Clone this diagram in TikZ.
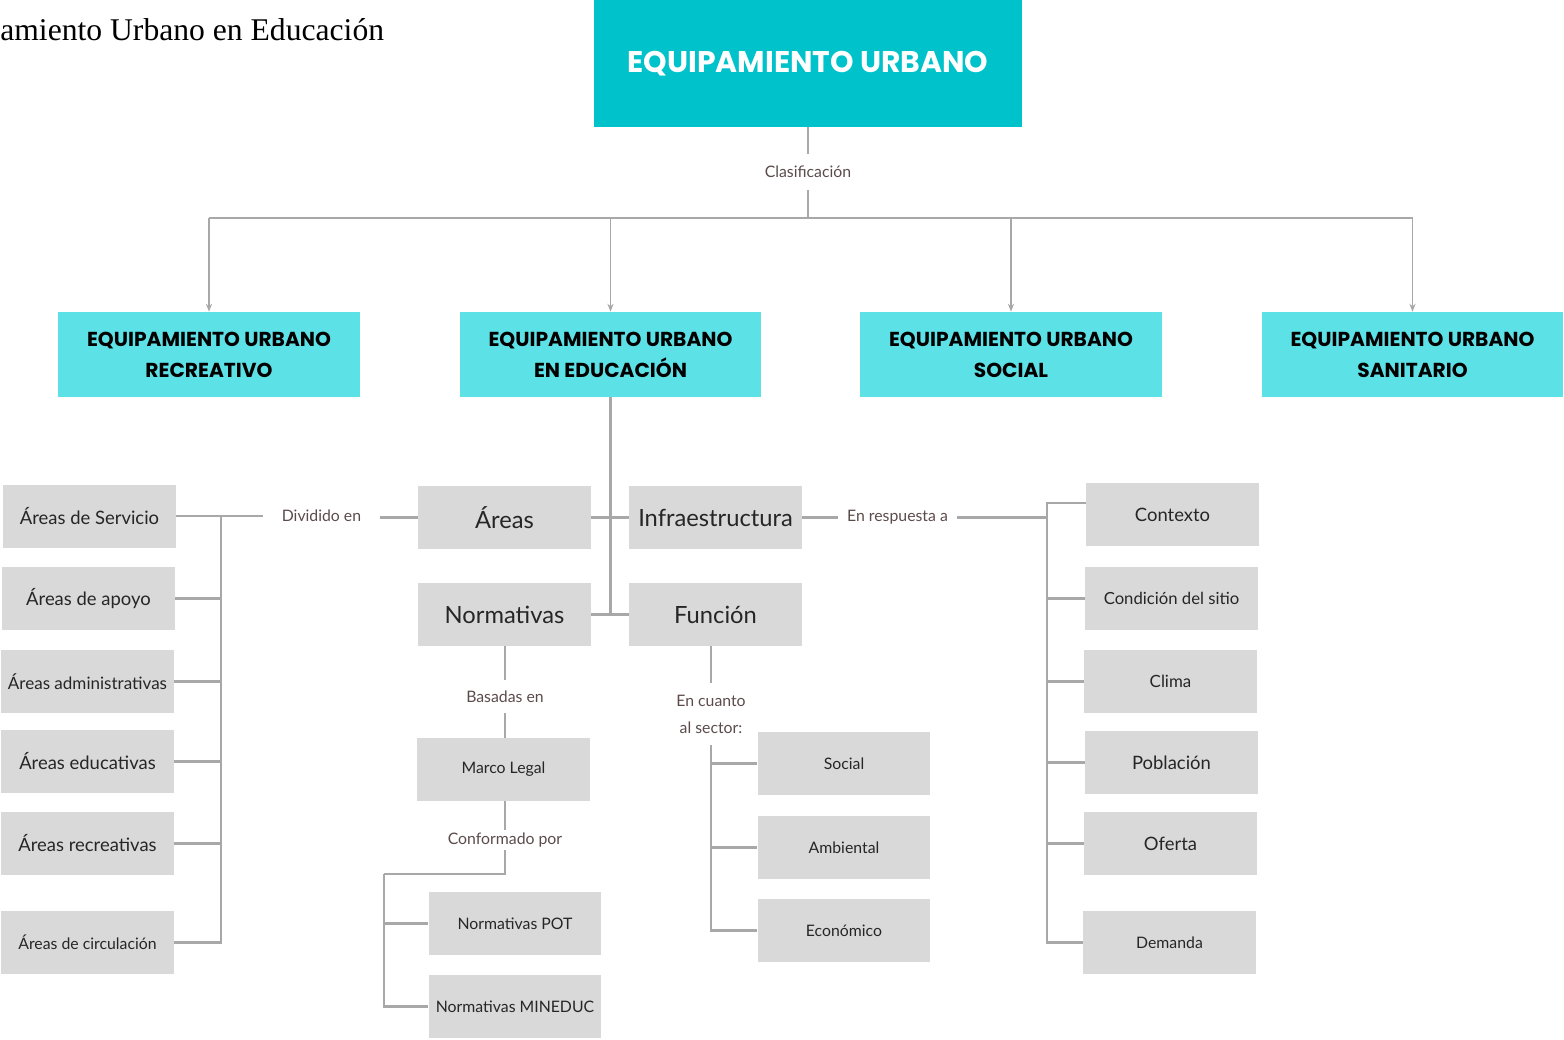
\documentclass[tikz,border=0pt]{standalone}
\usepackage{fontspec}
\setmainfont{Lato}
\newfontfamily\headfont{Poppins}
\newfontfamily\capfont{Liberation Serif}
\usetikzlibrary{arrows.meta}
\definecolor{topteal}{HTML}{00C2CB}
\definecolor{subteal}{HTML}{5CE1E6}
\definecolor{boxgray}{HTML}{D9D9D9}
\definecolor{linegray}{HTML}{A8A8A8}
\definecolor{lbltext}{HTML}{5B4B4B}

\begin{document}
\begin{tikzpicture}[x=0.02cm, y=-0.02cm,
    topbox/.style={fill=topteal, text=white, minimum width=8.56cm, minimum height=2.54cm, inner sep=0,
        font=\headfont\bfseries\fontsize{17}{20}\selectfont},
    typebox/.style={fill=subteal, minimum width=6.04cm, minimum height=1.7cm, inner sep=0, align=center,
        font=\headfont\bfseries\fontsize{11.5}{17.6}\selectfont},
    cell/.style={fill=boxgray, text=black!85, minimum width=3.46cm, minimum height=1.26cm, inner sep=0},
    big/.style={font=\fontsize{13.5}{16}\selectfont},
    mid/.style={font=\fontsize{10.5}{13}\selectfont},
    sml/.style={font=\fontsize{9}{11}\selectfont},
    lbl/.style={text=lbltext, inner sep=0, font=\fontsize{9}{11}\selectfont},
    conn/.style={draw=linegray, line width=1.35pt},
    fan/.style={draw=linegray, line width=0.9pt, -{Stealth[length=4.5pt,width=3.5pt]}}
]
    \useasboundingbox (0,0) rectangle (1564,1039);

    % Caption (cut at the left)
    \node[anchor=base west, inner sep=0, font=\capfont\fontsize{18}{22}\selectfont] (caption) at (0,40) {amiento Urbano en Educación};

    % Main box and the four types
    \node[topbox] (top) at (808,63.5) {EQUIPAMIENTO URBANO};
    \node[typebox] (rec) at (209,354.5) {EQUIPAMIENTO URBANO\\RECREATIVO};
    \node[typebox] (edu) at (610.5,354.5) {EQUIPAMIENTO URBANO\\EN EDUCACIÓN};
    \node[typebox] (soc) at (1011,354.5) {EQUIPAMIENTO URBANO\\SOCIAL};
    \node[typebox] (san) at (1412.5,354.5) {EQUIPAMIENTO URBANO\\SANITARIO};

    % Centre column
    \node[cell, big] (areas) at (504.5,517.5) {Áreas};
    \node[cell, big] (infra) at (715.5,517.5) {Infraestructura};
    \node[cell, big] (norm) at (504.5,614.5) {Normativas};
    \node[cell, big] (fun) at (715.5,614.5) {Función};
    \node[cell, sml] (marco) at (503.5,769.5) {Marco Legal};
    \node[cell, sml] (pot) at (515,923.5) {Normativas POT};
    \node[cell, sml] (mineduc) at (515,1006.5) {Normativas MINEDUC};
    \node[cell, sml] (social) at (844,763.5) {Social};
    \node[cell, sml] (amb) at (844,847.5) {Ambiental};
    \node[cell, sml] (eco) at (844,930.5) {Económico};

    % Left column
    \node[cell, mid] (serv) at (89.5,516) {Áreas de Servicio};
    \node[cell, mid] (apoyo) at (88.5,598.5) {Áreas de apoyo};
    \node[cell, mid, font=\fontsize{9.7}{12}\selectfont] (admin) at (87.5,681.5) {Áreas administrativas};
    \node[cell, mid] (educ) at (87.5,761.5) {Áreas educativas};
    \node[cell, mid] (recr) at (87.5,843.5) {Áreas recreativas};
    \node[cell, sml] (circ) at (87.5,942.5) {Áreas de circulación};

    % Right column
    \node[cell, mid] (ctx) at (1172.5,514.5) {Contexto};
    \node[cell, sml, font=\fontsize{9.5}{12}\selectfont] (cond) at (1171.5,598.5) {Condición del sitio};
    \node[cell, mid, font=\fontsize{9.6}{12}\selectfont] (clima) at (1170.5,681.5) {Clima};
    \node[cell, mid] (pobl) at (1171.5,762.5) {Población};
    \node[cell, mid] (oferta) at (1170.5,843.5) {Oferta};
    \node[cell, sml] (demanda) at (1169.5,942.5) {Demanda};

    % Connector labels
    \node[lbl, minimum height=0.7cm] (clas) at (808,172) {Clasificación};
    \node[lbl, minimum width=2.34cm] (div) at (321.5,516) {Dividido en};
    \node[lbl, minimum width=2.38cm] (resp) at (897.5,517.5) {En respuesta a};
    \node[lbl, minimum height=0.66cm] (bas) at (505,696.5) {Basadas en};
    \node[lbl, minimum height=0.4cm] (conf) at (505,840) {Conformado por};
    \node[lbl, minimum height=1.24cm, align=center, font=\fontsize{9}{15.4}\selectfont] (sector) at (711,714) {En cuanto\\al sector:};

    % Clasificación
    \coordinate (hub) at (808,218);
    \draw[conn] (top.south) -- (clas.north);
    \draw[conn] (clas.south) -- (hub);
    \draw[draw=linegray, line width=0.9pt] (rec.north |- hub) -- (san.north |- hub);
    \foreach \t in {rec,edu,soc,san}
        \draw[fan] (\t.north |- hub) -- (\t.north);

    % Educación
    \draw[conn] (edu.south) -- (edu.south |- fun.west);
    \draw[conn] (areas.east) -- (infra.west);
    \draw[conn] (norm.east) -- (fun.west);

    % Areas -> left column
    \coordinate (lbus) at (221,516);
    \draw[conn] (areas.west) -- (areas.west -| div.east);
    \draw[conn] (div.west) -- (lbus);
    \foreach \t in {serv,apoyo,admin,educ,recr,circ}
        \draw[conn] (\t.east) -| (lbus);

    % Infraestructura -> right column
    \coordinate (rbus) at (1047,517.5);
    \draw[conn] (infra.east) -- (resp.west);
    \draw[conn] (resp.east) -- (rbus);
    \draw[conn] (rbus) |- ([yshift=0.23cm]ctx.west);
    \foreach \t in {cond,clima,pobl,oferta,demanda}
        \draw[conn] (rbus) |- (\t.west);

    % Normativas
    \coordinate (cbus) at (384,874);
    \draw[conn] (bas.north |- norm.south) -- (bas.north);
    \draw[conn] (bas.south) -- (bas.south |- marco.north);
    \draw[conn] (conf.north |- marco.south) -- (conf.north);
    \draw[conn] (conf.south) |- (cbus);
    \foreach \t in {pot,mineduc}
        \draw[conn] (cbus) |- (\t.west);

    % Función
    \draw[conn] (sector.north |- fun.south) -- (sector.north);
    \foreach \t in {social,amb,eco}
        \draw[conn] (sector.south) |- (\t.west);
\end{tikzpicture}
\end{document}
